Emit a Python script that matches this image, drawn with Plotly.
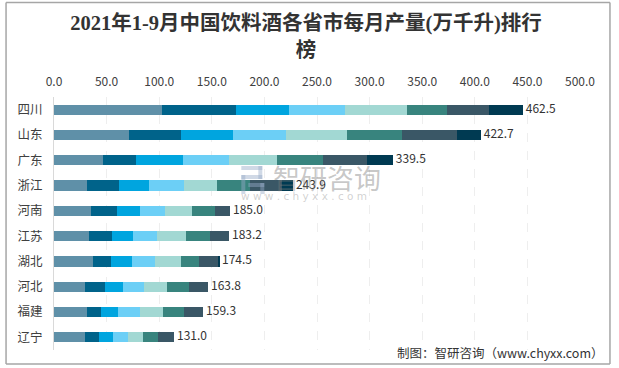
import numpy as np
import plotly.graph_objects as go

provinces = ["四川", "山东", "广东", "浙江", "河南", "江苏", "湖北", "河北", "福建", "辽宁"]
totals = [462.5, 422.7, 339.5, 243.9, 185.0, 183.2, 174.5, 163.8, 159.3, 131.0]
jan_feb = [103, 71.7, 46.1, 31.8, 34.7, 32.8, 36.6, 29, 30.9, 29]
mar = [70.3, 49.4, 32.2, 30.4, 25.6, 22.8, 18, 19, 14.2, 14.2]
apr = [50.3, 49.4, 44.6, 28.5, 21.8, 19.9, 19.9, 18, 16.2, 13.3]
may = [53.2, 50.3, 43.7, 33.2, 23.8, 22.8, 21.9, 19.9, 20.8, 14.2]
jun = [58.9, 57.9, 45.6, 31.4, 25.6, 27.5, 24.7, 21.9, 21.9, 14.2]
jul = [38, 52.3, 43.7, 31.3, 21.9, 22.8, 17.1, 20.9, 19.9, 14.3]
aug = [39.9, 52.2, 41.8, 30.4, 14.2, 18.1, 18, 18, 18.1, 15.2]
sep = [32.3, 22.8, 24.7, 10.4, 0, 0, 1, 0, 0, 0]
series = [jan_feb, mar, apr, may, jun, jul, aug, sep]
colors = ["#5f90a8", "#00638a", "#00a5df", "#6ccff6", "#a2d8d3", "#38847e", "#3a5766", "#003a52"]
tick_vals = [0, 50, 100, 150, 200, 250, 300, 350, 400, 450, 500]
tick_text = ["%.1f" % t for t in tick_vals]
FONT = "Microsoft YaHei, Noto Sans CJK SC, sans-serif"

PX_L, PX_R, PX_T, PX_B = 53.5, 580.0, 97.0, 350.0


def px(x):
    return (x - PX_L) / (PX_R - PX_L)


def py(y):
    return (PX_B - y) / (PX_B - PX_T)


fig = go.Figure()
for vals, c in zip(series, colors):
    fig.add_bar(y=provinces, x=vals, orientation="h", marker=dict(color=c, line_width=0), showlegend=False)
fig.add_scatter(
    y=provinces, x=np.sum(series, axis=0), mode="text",
    text=["\u00a0%.1f" % t for t in totals], textposition="middle right",
    textfont=dict(size=12, color="#333333", family=FONT), showlegend=False, cliponaxis=False,
)

LOGO = "rgba(150,170,200,0.45)"
logo_boxes = [(241, 166, 262, 170), (258, 166, 262, 179), (241, 175, 262, 179),
              (241, 175, 245, 194), (248, 183, 264, 187), (260, 183, 264, 194)]
border = [(5.5, 2.5, 610, 2.5), (5.5, 364, 610, 364), (5.5, 2.5, 5.5, 364), (610, 2.5, 610, 364)]
shapes = [dict(type="line", xref="paper", yref="paper", x0=px(a), x1=px(c), y0=py(b), y1=py(d),
               line=dict(color="#a6a6a6", width=1.5)) for a, b, c, d in border]
for a, b, c, d in logo_boxes:
    shapes.append(dict(type="rect", xref="paper", yref="paper", x0=px(a), x1=px(c), y0=py(d), y1=py(b),
                       line_width=0, fillcolor=LOGO))

fig.update_layout(
    width=619, height=368, autosize=False, barmode="stack", bargap=0.6,
    paper_bgcolor="white", plot_bgcolor="white",
    margin=dict(l=PX_L, r=619 - PX_R, t=PX_T, b=368 - PX_B, pad=0),
    title=dict(text="2021年1-9月中国饮料酒各省市每月产量(万千升)排行<br>榜",
               x=306 / 619, xanchor="center", xref="container", y=1 - 30 / 368, yanchor="top", yref="container",
               font=dict(size=20.5, color="#333333", family="Liberation Serif, Noto Sans CJK SC, serif", weight="bold")),
    xaxis=dict(side="top", range=[0, 500], tickvals=tick_vals, ticktext=tick_text, ticks="", automargin=False,
               showgrid=True, gridcolor="#eeeeee", griddash="dash", gridwidth=1, zeroline=False, ticklabelstandoff=8,
               showline=False, tickfont=dict(size=12, color="#404040", family=FONT)),
    yaxis=dict(autorange="reversed", ticks="", showgrid=False, zeroline=False, showline=True, automargin=False,
               linecolor="#d9d9d9", linewidth=1, ticklabelstandoff=8,
               tickfont=dict(size=12.5, color="#404040", family=FONT)),
    shapes=shapes,
    annotations=[
        dict(text="制图：智研咨询（www.chyxx.com）", xref="paper", yref="paper", x=px(606), y=py(352.5),
             xanchor="right", yanchor="middle", showarrow=False,
             font=dict(size=12.5, color="#333333", family="Noto Sans CJK SC")),
        dict(text="智研咨询", xref="paper", yref="paper", x=px(271), y=py(177), xanchor="left", yanchor="middle",
             showarrow=False, font=dict(size=27, color="rgba(120,120,120,0.42)", family="Noto Sans CJK SC")),
        dict(text="w w w . c h y x x . c o m", xref="paper", yref="paper", x=px(239), y=py(196), xanchor="left",
             yanchor="middle", showarrow=False, font=dict(size=10.5, color="rgba(120,120,120,0.35)", family="DejaVu Sans")),
    ],
)
fig.write_html("out.html", config={"displayModeBar": False},
               post_script="document.body.style.margin='0';document.body.style.overflow='hidden';")
